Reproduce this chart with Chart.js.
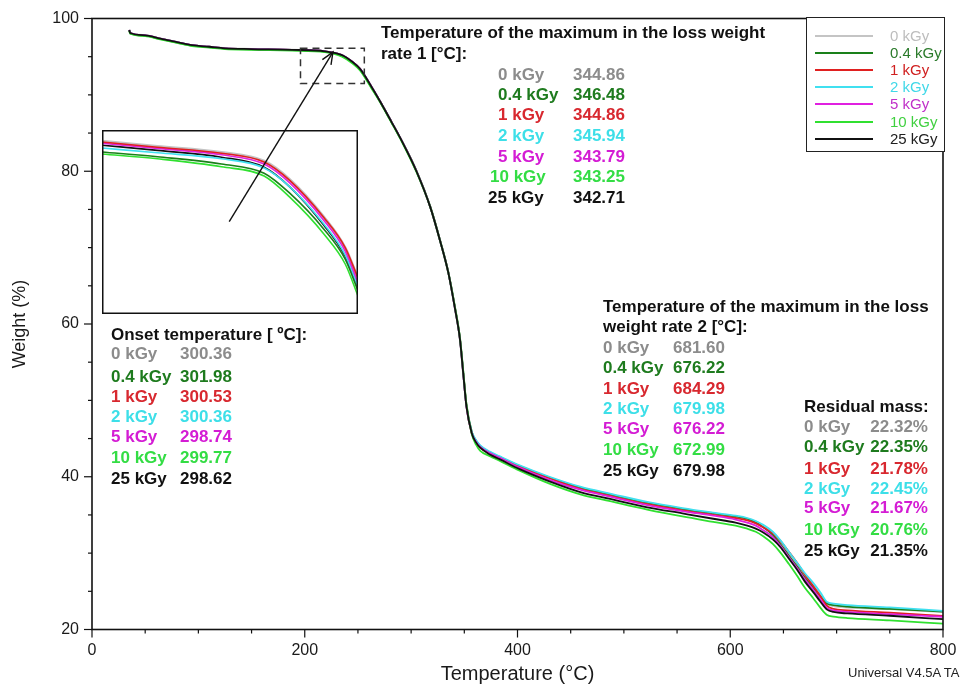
<!DOCTYPE html>
<html><head><meta charset="utf-8">
<script src="https://cdn.jsdelivr.net/npm/chart.js@4.4.0/dist/chart.umd.min.js"></script>
<style>
html,body{margin:0;padding:0;background:#fff;}
#wrap{position:relative;width:961px;height:684px;overflow:hidden;font-family:"Liberation Sans",Arial,sans-serif;background:#fff;}
#main{position:absolute;left:0;top:0;z-index:2;}
#insetBox{position:absolute;left:102px;top:130px;width:256px;height:184px;z-index:1;}
.t{position:absolute;z-index:3;font-weight:bold;font-size:17px;white-space:nowrap;line-height:20px;height:20px;}
.lg{position:absolute;z-index:3;font-size:15px;white-space:nowrap;line-height:18px;height:18px;}
.sw{position:absolute;z-index:3;height:2px;}
#legendBox{position:absolute;left:806px;top:17px;width:137px;height:133px;border:1.5px solid #222;background:#fff;z-index:3;}
#ver{position:absolute;left:848px;top:665px;font-family:"Liberation Sans",Arial,sans-serif;font-size:13px;color:#222;z-index:3;white-space:nowrap;}
</style></head>
<body>
<div id="wrap">
  <canvas id="main" width="961" height="684"></canvas>
  <div id="insetBox"><canvas id="inset" width="256" height="184"></canvas></div>
  <div id="legendBox"></div>
  <div id="ver">Universal V4.5A TA</div>
</div>
<script>
// ---------- data ----------
const seriesNames = ['0 kGy', '0.4 kGy', '1 kGy', '2 kGy', '5 kGy', '10 kGy', '25 kGy'];
const lineColors = ['#c4c4c4', '#1a801a', '#e02020', '#40e0f0', '#e020e0', '#30e030', '#111111'];
const textColors = ['#8c8c8c', '#1e7b1e', '#d8282f', '#3ddfe8', '#d41cd4', '#33dd44', '#111111'];
const legendTextColors = ['#bdbdbd', '#2a7a2a', '#d02020', '#40d8e8', '#c030c8', '#40d040', '#202020'];

const temps = [35,36,50,63,80,94,110,125,150,188,219,235,245,252,263,271,281,290,305,318,327,335,341,346,349,352,357,361,365,374,383,402,430,459,490,522,555,584,605,616,624,631,640,647,655,663,670,678,685,691,697,710,750,800];

const w0  = [98.5,98.1,97.8,97.4,96.9,96.5,96.3,96.1,96.0,95.9,95.7,95.2,94.3,93.4,91.0,89.1,86.6,84.3,80.0,75.3,71.0,66.7,62.2,57.9,53.5,49.2,45.8,44.7,44.0,
             43.2,42.6,41.4,39.9,38.6,37.6,36.6,35.8,35.2,34.8,34.5,34.1,33.6,32.7,31.6,30.1,28.6,27.2,25.8,24.5,23.4,23.1,22.9,22.7,22.32];
const w04 = [98.45,98.05,97.75,97.35,96.85,96.45,96.25,96.05,95.95,95.85,95.65,95.1,94.2,93.3,90.9,89.1,86.6,84.3,80.1,75.4,71.1,66.8,62.4,58.1,53.8,49.5,45.9,44.7,44.0,
             43.2,42.6,41.4,39.9,38.6,37.6,36.6,35.8,35.2,34.8,34.5,34.0,33.4,32.4,31.2,29.7,28.2,26.8,25.5,24.3,23.4,23.2,23.0,22.7,22.35];
const w1  = [98.5,98.1,97.8,97.4,96.9,96.5,96.3,96.1,96.0,95.9,95.7,95.2,94.3,93.4,91.0,89.1,86.6,84.3,80.0,75.3,71.0,66.7,62.2,57.9,53.5,49.2,45.7,44.5,43.8,
             43.1,42.5,41.3,39.8,38.4,37.4,36.4,35.6,35.0,34.6,34.3,33.9,33.4,32.6,31.6,30.2,28.7,27.2,25.7,24.3,23.1,22.7,22.5,22.2,21.78];
const w2  = [98.5,98.1,97.8,97.4,96.9,96.5,96.3,96.1,96.0,95.9,95.7,95.2,94.3,93.4,91.0,89.1,86.6,84.3,80.0,75.3,71.0,66.7,62.2,57.9,53.5,49.2,45.9,44.8,44.1,
             43.3,42.7,41.5,40.0,38.7,37.7,36.7,35.9,35.3,34.9,34.6,34.2,33.7,32.8,31.7,30.2,28.7,27.4,26.1,24.8,23.6,23.4,23.2,22.9,22.45];
const w5  = [98.5,98.1,97.8,97.4,96.9,96.5,96.3,96.1,96.0,95.9,95.7,95.2,94.3,93.4,91.0,89.1,86.6,84.3,80.0,75.3,71.0,66.7,62.2,57.9,53.5,49.2,45.7,44.6,43.9,
             43.1,42.5,41.2,39.6,38.3,37.3,36.3,35.5,34.9,34.4,34.0,33.6,33.0,32.1,31.0,29.5,28.0,26.6,25.2,23.9,22.8,22.5,22.3,22.0,21.67];
const w10 = [98.4,98.0,97.7,97.3,96.8,96.4,96.2,96.0,95.9,95.8,95.6,95.0,94.1,93.2,90.8,89.0,86.5,84.2,79.9,75.3,71.0,66.7,62.3,58.0,53.7,49.4,45.6,44.2,43.4,
             42.7,42.1,40.8,39.1,37.7,36.7,35.7,34.8,34.1,33.6,33.2,32.8,32.2,31.2,30.1,28.6,27.0,25.5,24.1,22.8,21.9,21.7,21.5,21.2,20.76];
const w25 = [98.5,98.1,97.8,97.4,96.9,96.5,96.3,96.1,96.0,95.9,95.7,95.2,94.3,93.4,91.0,89.1,86.6,84.3,80.0,75.3,71.0,66.7,62.2,57.9,53.5,49.2,45.7,44.5,43.8,
             42.9,42.3,41.0,39.4,38.0,37.0,36.0,35.2,34.5,34.0,33.6,33.2,32.7,31.8,30.8,29.3,27.8,26.3,24.9,23.6,22.6,22.3,22.1,21.8,21.35];
const mainSeries = [w0, w04, w1, w2, w5, w10, w25];
const drawOrder = [6, 5, 4, 3, 2, 1, 0]; // lower = drawn on top

// inset (magnified view of dashed box)
const insetTemps = [196, 209, 224, 234, 240, 248, 253, 256];
const i0  = [95.82, 95.69, 95.54, 95.32, 94.86, 93.92, 93.15, 92.38];
const i04 = [95.55, 95.43, 95.25, 95.02, 94.52, 93.62, 92.87, 92.08];
const i1  = [95.80, 95.67, 95.52, 95.30, 94.84, 93.91, 93.16, 92.40];
const i2  = [95.65, 95.53, 95.38, 95.15, 94.68, 93.75, 92.98, 92.20];
const i5  = [95.77, 95.64, 95.48, 95.25, 94.78, 93.84, 93.07, 92.28];
const i10 = [95.50, 95.38, 95.18, 94.95, 94.42, 93.50, 92.75, 91.95];
const i25 = [95.72, 95.59, 95.42, 95.17, 94.68, 93.72, 92.95, 92.18];
const insetSeries = [i0, i04, i1, i2, i5, i10, i25];
const insetRange = {tMin: 196, tMax: 256, wMin: 91.5, wMax: 96.1};
const arrowFrom = [129, 73.4];
const arrowTo = [226.5, 95.6];

// annotation tables
const rate1Values = ['344.86', '346.48', '344.86', '345.94', '343.79', '343.25', '342.71'];
const onsetValues = ['300.36', '301.98', '300.53', '300.36', '298.74', '299.77', '298.62'];
const rate2Values = ['681.60', '676.22', '684.29', '679.98', '676.22', '672.99', '679.98'];
const residualValues = ['22.32%', '22.35%', '21.78%', '22.45%', '21.67%', '20.76%', '21.35%'];

const xTickLabels = [0, 200, 400, 600, 800];
const yTickLabels = [20, 40, 60, 80, 100];

// ---------- helpers ----------
const wrap = document.getElementById('wrap');
function addText(cls, txt, x, yc, color, align) {
  const d = document.createElement('div');
  d.className = cls;
  d.textContent = txt;
  d.style.color = color;
  d.style.top = (yc - (cls === 'lg' ? 9 : 10)) + 'px';
  if (align === 'right') { d.style.right = (961 - x) + 'px'; } else { d.style.left = x + 'px'; }
  wrap.appendChild(d);
}
function addTable(titleLines, titleX, titleYs, rowYs, labelXs, values, valueX, valueAlign) {
  titleLines.forEach((t, i) => addText('t', t, titleX, titleYs[i], '#111'));
  seriesNames.forEach((n, i) => {
    addText('t', n, labelXs[i], rowYs[i], textColors[i]);
    addText('t', values[i], valueX, rowYs[i], textColors[i], valueAlign);
  });
}
addTable(['Temperature of the maximum in the loss weight', 'rate 1 [°C]:'], 381, [33, 54],
  [75, 95, 115, 136, 157, 177, 198], [498, 498, 498, 498, 498, 490, 488], rate1Values, 573);
addTable(['Onset temperature [ ºC]:'], 111, [335],
  [354, 377, 397, 417, 437, 458, 479], [111, 111, 111, 111, 111, 111, 111], onsetValues, 180);
addTable(['Temperature of the maximum in the loss', 'weight rate 2 [°C]:'], 603, [307, 327],
  [348, 368, 389, 409, 429, 450, 471], [603, 603, 603, 603, 603, 603, 603], rate2Values, 673);
addTable(['Residual mass:'], 804, [407],
  [427, 447, 469, 489, 508, 530, 551], [804, 804, 804, 804, 804, 804, 804], residualValues, 928, 'right');

// legend
const legendYs = [36, 53, 70, 87, 104, 122, 139];
seriesNames.forEach((n, i) => {
  const s = document.createElement('div');
  s.className = 'sw';
  s.style.left = '815px'; s.style.width = '58px';
  s.style.top = (legendYs[i] - 1) + 'px';
  s.style.background = lineColors[i];
  wrap.appendChild(s);
  addText('lg', n, 890, legendYs[i], legendTextColors[i]);
});

// ---------- main chart ----------
const sans = '"Liberation Sans", Arial, sans-serif';
const mainPlugin = {
  id: 'mainDeco',
  afterDatasetsDraw(chart) {
    const {ctx, scales: {x, y}} = chart;
    ctx.save();
    ctx.strokeStyle = '#333';
    ctx.lineWidth = 1.5;
    ctx.setLineDash([7, 5]);
    const x0 = x.getPixelForValue(insetRange.tMin), x1 = x.getPixelForValue(insetRange.tMax);
    const y0 = y.getPixelForValue(insetRange.wMax), y1 = y.getPixelForValue(insetRange.wMin);
    ctx.strokeRect(x0, y0, x1 - x0, y1 - y0);
    ctx.setLineDash([]);
    const ax = x.getPixelForValue(arrowFrom[0]), ay = y.getPixelForValue(arrowFrom[1]);
    const bx = x.getPixelForValue(arrowTo[0]), by = y.getPixelForValue(arrowTo[1]);
    ctx.strokeStyle = '#111';
    ctx.lineWidth = 1.4;
    ctx.beginPath(); ctx.moveTo(ax, ay); ctx.lineTo(bx, by); ctx.stroke();
    const ang = Math.atan2(by - ay, bx - ax);
    ctx.beginPath();
    ctx.moveTo(bx - 13 * Math.cos(ang - 0.4), by - 13 * Math.sin(ang - 0.4));
    ctx.lineTo(bx, by);
    ctx.lineTo(bx - 13 * Math.cos(ang + 0.4), by - 13 * Math.sin(ang + 0.4));
    ctx.stroke();
    ctx.restore();
  },
  afterDraw(chart) {
    const {ctx, chartArea: a, scales: {x, y}} = chart;
    ctx.save();
    ctx.strokeStyle = '#111';
    ctx.lineWidth = 1.6;
    ctx.strokeRect(a.left, a.top, a.right - a.left, a.bottom - a.top);
    ctx.lineWidth = 1.2;
    x.ticks.forEach(t => {
      const px = x.getPixelForValue(t.value);
      const len = xTickLabels.includes(t.value) ? 8 : 4;
      ctx.beginPath(); ctx.moveTo(px, a.bottom); ctx.lineTo(px, a.bottom + len); ctx.stroke();
    });
    y.ticks.forEach(t => {
      const py = y.getPixelForValue(t.value);
      const len = yTickLabels.includes(t.value) ? 8 : 4;
      ctx.beginPath(); ctx.moveTo(a.left - len, py); ctx.lineTo(a.left, py); ctx.stroke();
    });
    ctx.restore();
  }
};

new Chart(document.getElementById('main'), {
  type: 'line',
  data: {
    datasets: seriesNames.map((n, i) => ({
      label: n,
      data: temps.map((t, k) => ({x: t, y: mainSeries[i][k]})),
      borderColor: lineColors[i],
      borderWidth: i === 0 ? 2.2 : 1.8,
      pointRadius: 0,
      fill: false,
      cubicInterpolationMode: 'monotone',
      order: drawOrder[i]
    }))
  },
  options: {
    responsive: false,
    animation: false,
    events: [],
    layout: {padding: {left: 0, top: 18.5, right: 18, bottom: 0}},
    plugins: {legend: {display: false}, tooltip: {enabled: false}},
    scales: {
      x: {
        type: 'linear', min: 0, max: 800,
        afterFit: s => { s.height = 54.5; },
        border: {display: false},
        grid: {display: true, drawOnChartArea: false, drawTicks: true, tickLength: 8, tickColor: 'rgba(0,0,0,0)'},
        ticks: {stepSize: 50, autoSkip: false, maxRotation: 0, padding: 3, color: '#1a1a1a',
          font: {family: sans, size: 16},
          callback: v => xTickLabels.includes(v) ? String(v) : ''},
        title: {display: true, text: 'Temperature (°C)', color: '#1a1a1a', padding: 0,
          font: {family: sans, size: 20, lineHeight: 1}}
      },
      y: {
        type: 'linear', min: 20, max: 100,
        afterFit: s => { s.width = 92; },
        border: {display: false},
        grid: {display: true, drawOnChartArea: false, drawTicks: true, tickLength: 8, tickColor: 'rgba(0,0,0,0)'},
        ticks: {stepSize: 5, autoSkip: false, padding: 5, color: '#1a1a1a',
          font: {family: sans, size: 16},
          callback: v => yTickLabels.includes(v) ? String(v) : ''},
        title: {display: true, text: 'Weight (%)', color: '#1a1a1a', padding: {top: 9, bottom: 0},
          font: {family: sans, size: 18}}
      }
    }
  },
  plugins: [mainPlugin]
});

// ---------- inset chart ----------
const insetFrame = {
  id: 'insetFrame',
  afterDraw(chart) {
    const {ctx, width, height} = chart;
    ctx.save();
    ctx.strokeStyle = '#111';
    ctx.lineWidth = 1.5;
    ctx.strokeRect(0.75, 0.75, width - 1.5, height - 1.5);
    ctx.restore();
  }
};
new Chart(document.getElementById('inset'), {
  type: 'line',
  data: {
    datasets: seriesNames.map((n, i) => ({
      label: n,
      data: insetTemps.map((t, k) => ({x: t, y: insetSeries[i][k]})),
      borderColor: lineColors[i],
      borderWidth: i === 0 ? 3 : 1.6,
      pointRadius: 0,
      fill: false,
      cubicInterpolationMode: 'monotone',
      order: [5, 3, 0, 2, 1, 4, 2.5][i]
    }))
  },
  options: {
    responsive: false,
    animation: false,
    events: [],
    layout: {padding: 0},
    plugins: {legend: {display: false}, tooltip: {enabled: false}},
    scales: {
      x: {type: 'linear', display: false, min: insetRange.tMin, max: insetRange.tMax},
      y: {type: 'linear', display: false, min: insetRange.wMin, max: insetRange.wMax}
    }
  },
  plugins: [insetFrame]
});
</script>
</body></html>
